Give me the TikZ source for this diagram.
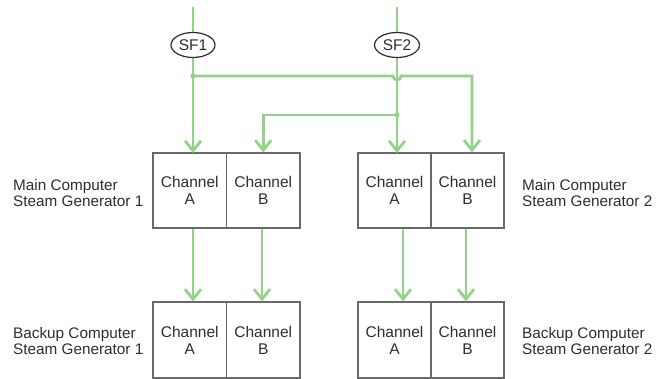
\documentclass[tikz,border=0pt]{standalone}
\usepackage{fontspec}
\setmainfont{Liberation Sans}
\usetikzlibrary{shapes.geometric,arrows.meta}

\definecolor{flowgreen}{RGB}{148,210,138}
\definecolor{boxgray}{RGB}{105,105,105}
\definecolor{textgray}{RGB}{45,45,45}

\begin{document}
\begin{tikzpicture}[x=1pt,y=-1pt,
  flow/.style={draw=flowgreen, line width=2.8pt, line join=miter},
  flowarrow/.style={flow, -{Straight Barb[length=10pt,width=16pt]}},
  chan/.style={draw=boxgray, line width=1.2pt, rectangle, minimum width=73.5pt,
    minimum height=75pt, inner sep=0pt, align=center, text=textgray,
    font=\fontsize{15.5}{17}\selectfont},
  sfnode/.style={draw=textgray, line width=1.2pt, ellipse, fill=white, inner sep=0pt,
    minimum width=44pt, minimum height=25pt, text=textgray,
    font=\fontsize{15.5}{17}\selectfont},
  sglabel/.style={anchor=west, inner sep=0pt, align=left, text=textgray,
    font=\fontsize{15.3}{16}\selectfont},
  junction/.style={circle, fill=flowgreen, inner sep=0pt, minimum size=5pt}
]
\useasboundingbox (0,0) rectangle (664,379);

% main computers
\node[chan] (mA1) at (189.75,190.5) {Channel\\A};
\node[chan] (mB1) at (263.25,190.5) {Channel\\B};
\node[chan, minimum width=73pt] (mA2) at (394.5,190.5) {Channel\\A};
\node[chan, minimum width=73pt] (mB2) at (467.5,190.5) {Channel\\B};

% backup computers
\node[chan, minimum height=76pt] (bA1) at (189.75,340) {Channel\\A};
\node[chan, minimum height=76pt] (bB1) at (263.25,340) {Channel\\B};
\node[chan, minimum height=76pt, minimum width=73pt] (bA2) at (394.5,340) {Channel\\A};
\node[chan, minimum height=76pt, minimum width=73pt] (bB2) at (467.5,340) {Channel\\B};

% side labels
\node[sglabel] (lm1) at (13,193.5) {Main Computer\\Steam Generator 1};
\node[sglabel] (lb1) at (13,341.5) {Backup Computer\\Steam Generator 1};
\node[sglabel] (lm2) at (522,193.5) {Main Computer\\Steam Generator 2};
\node[sglabel] (lb2) at (522,341.5) {Backup Computer\\Steam Generator 2};

% route points
\coordinate (in1) at (193,7);
\coordinate (in2) at (397,7);
\coordinate (j1) at (193,76);
\coordinate (j2) at (397,115);
\coordinate (hopL) at (393,76);
\coordinate (c2) at (472,76);
\coordinate (c1) at (263.25,115);

% SF1 feeds main A of SG1 and main B of SG2
\draw[flow] (in1) -- (193,33);
\draw[flowarrow] (193,57) -- (193,153);
\draw[flowarrow] (j1) -- (hopL) arc[start angle=180, end angle=0, radius=4]
  -- (c2) -- (c2 |- mB2.north);

% SF2 feeds main A of SG2 and main B of SG1
\draw[flow] (in2) -- (397,33);
\draw[flowarrow] (397,57) -- (397,153);
\draw[flowarrow] (j2) -- (c1) -- (mB1.north);

% sensor nodes on top of the feed lines
\node[sfnode] (sf1) at (193,45) {SF1};
\node[sfnode, minimum width=45pt] (sf2) at (397,45) {SF2};

\node[junction] (d1) at (j1) {};
\node[junction] (d2) at (j2) {};

% main to backup links
\draw[flowarrow] ([xshift=3.25pt]mA1.south) -- ([xshift=3.25pt]bA1.north);
\draw[flowarrow] ([xshift=-1.25pt]mB1.south) -- ([xshift=-1.25pt]bB1.north);
\draw[flowarrow] ([xshift=8.5pt]mA2.south) -- ([xshift=8.5pt]bA2.north);
\draw[flowarrow] ([xshift=-1.5pt]mB2.south) -- ([xshift=-1.5pt]bB2.north);
\end{tikzpicture}
\end{document}
